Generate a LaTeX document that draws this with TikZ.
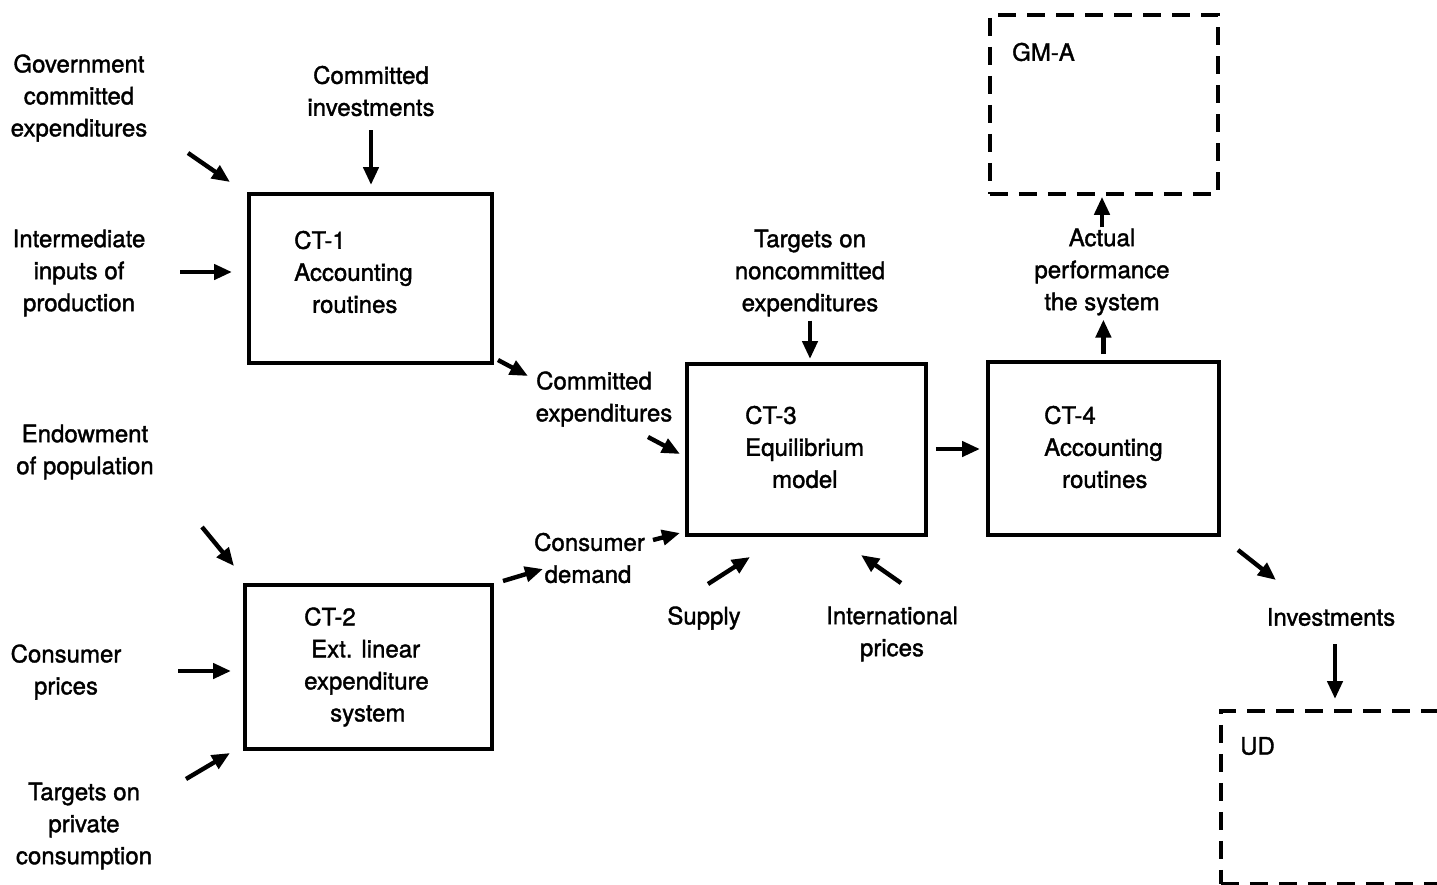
\documentclass[tikz,border=0pt]{standalone}
\usepackage{fontspec}
\setmainfont{TeX Gyre Heros}[FakeBold=1.5]
\usetikzlibrary{arrows.meta}
\begin{document}
\begin{tikzpicture}[x=1pt,y=-1pt,
  lbl/.style={font=\fontsize{24}{32}\selectfont, align=center, inner sep=0pt, yshift=-2pt},
  blk/.style={draw, line width=3.8pt, anchor=north west, inner sep=0pt},
  dbox/.style={draw, line width=3.8pt, dash pattern=on 18pt off 11pt, anchor=north west, inner sep=0pt},
  flow/.style={line width=4.4pt, -{Triangle[length=18pt,width=15pt]}},
]
\useasboundingbox (0,0) rectangle (1437,884);

% model blocks
\node[blk, minimum width=243pt, minimum height=169pt] (ct1) at (247,192) {};
\node[blk, minimum width=247pt, minimum height=164pt] (ct2) at (243,583) {};
\node[blk, minimum width=239pt, minimum height=171pt] (ct3) at (685,362) {};
\node[blk, minimum width=231pt, minimum height=173pt] (ct4) at (986,360) {};
\node[dbox, minimum width=228pt, minimum height=179pt] (gma) at (988,13) {};
\node[dbox, minimum width=240pt, minimum height=173pt] (ud) at (1219,709) {};

% block titles
\node[lbl, align=left, anchor=west] (ct1t) at (294,270) {CT-1\\Accounting\\\hspace{18pt}routines};
\node[lbl, align=left, anchor=west] (ct2t) at (304,665) {CT-2\\\hspace{7pt}Ext. linear\\expenditure\\\hspace{26pt}system};
\node[lbl, align=left, anchor=west] (ct3t) at (745,445) {CT-3\\Equilibrium\\\hspace{27pt}model};
\node[lbl, align=left, anchor=west] (ct4t) at (1044,445) {CT-4\\Accounting\\\hspace{18pt}routines};
\node[lbl, anchor=west] (gmat) at (1012,50) {GM-A};
\node[lbl, anchor=west] (udt) at (1240,744) {UD};

% exogenous inputs and flow labels
\node[lbl] (gce) at (79,96) {Government\\committed\\expenditures};
\node[lbl] (cinv) at (371,89) {Committed\\investments};
\node[lbl] (iip) at (79,271) {Intermediate\\inputs of\\production};
\node[lbl] (endw) at (85,450) {Endowment\\of population};
\node[lbl] (cpr) at (66,670) {Consumer\\prices};
\node[lbl] (tpc) at (84,824) {Targets on\\private\\consumption};
\node[lbl] (cexp) at (604,397) {\hspace{-20pt}Committed\\expenditures};
\node[lbl] (cdem) at (591,556) {\hspace{-3pt}Consumer\\\hspace{-6pt}demand};
\node[lbl] (tnc) at (810,271) {Targets on\\noncommitted\\expenditures};
\node[lbl] (sup) at (704,616) {Supply};
\node[lbl] (intp) at (892,632) {International\\prices};
\node[lbl] (act) at (1102,270) {Actual\\performance\\the system};
\node[lbl] (inv) at (1331,615) {Investments};

% arrow end points
\coordinate (a1s) at (188,153);  \coordinate (a1e) at (230,182);
\coordinate (a2s) at (180,272);  \coordinate (a2e) at (232,272);
\coordinate (a3s) at (202,527);  \coordinate (a3e) at (234,566);
\coordinate (a4s) at (178,671);  \coordinate (a4e) at (231,671);
\coordinate (a5s) at (186,779);  \coordinate (a5e) at (230,753);
\coordinate (a6s) at (498,360);  \coordinate (a6e) at (528,376);
\coordinate (a7s) at (648,437);  \coordinate (a7e) at (680,454);
\coordinate (a8s) at (503,581);  \coordinate (a8e) at (543,569);
\coordinate (a9s) at (653,540);  \coordinate (a9e) at (680,533);
\coordinate (a10s) at (708,584); \coordinate (a10e) at (750,557);
\coordinate (a11s) at (901,583); \coordinate (a11e) at (861,555);
\coordinate (a12s) at (1238,550); \coordinate (a12e) at (1276,580);

% connectors
\draw[flow] (a1s) -- (a1e);
\draw[flow] (a2s) -- (a2e);
\draw[flow] (a3s) -- (a3e);
\draw[flow] (a4s) -- (a4e);
\draw[flow] (a5s) -- (a5e);
\draw[flow] (a6s) -- (a6e);
\draw[flow] (a7s) -- (a7e);
\draw[flow] (a8s) -- (a8e);
\draw[flow] (a9s) -- (a9e);
\draw[flow] (a10s) -- (a10e);
\draw[flow] (a11s) -- (a11e);
\draw[flow] (a12s) -- (a12e);
\draw[flow, shorten <=14pt, shorten >=7pt] (cinv.south) -- (cinv.south |- ct1.north);
\draw[flow, shorten <=4pt, shorten >=3pt] (tnc.south) -- (tnc.south |- ct3.north);
\draw[flow, shorten <=8pt, shorten >=6pt] (ct3.east |- 0,449) -- (ct4.west |- 0,449);
\draw[flow, shorten <=6pt, shorten >=4pt] (ct4.north) -- (act.south -| ct4.north);
\draw[flow, shorten <=1pt, shorten >=1pt] (act.north) -- (act.north |- gma.south);
\draw[flow, shorten <=18pt, shorten >=10pt] (inv.south -| 1335,0) -- (ud.north -| 1335,0);
\end{tikzpicture}
\end{document}
